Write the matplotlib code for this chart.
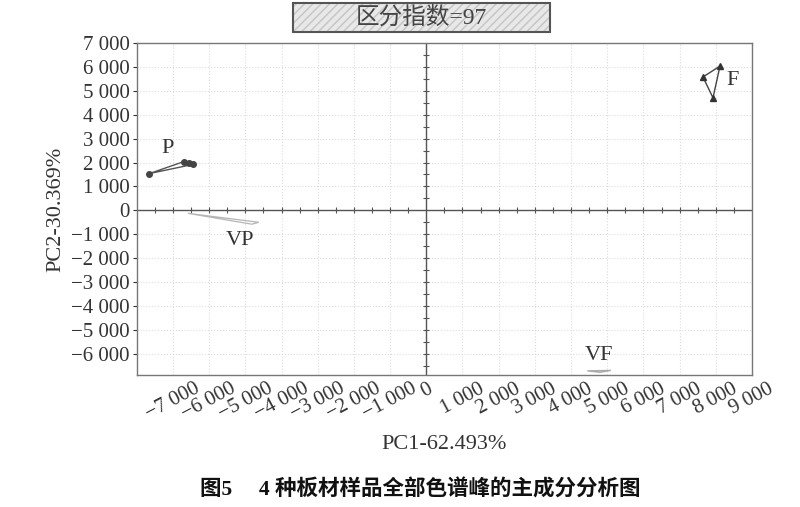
import numpy as np
import matplotlib
matplotlib.use('Agg')
import matplotlib.pyplot as plt
from matplotlib.patches import Rectangle
from matplotlib.ticker import FuncFormatter

plt.rcParams['font.family'] = ['Liberation Serif', 'Noto Sans CJK SC', 'DejaVu Sans']

# PCA scores
p_x = [-7650, -6700, -6550, -6450]
p_y = [1540, 2040, 2000, 1920]
vp_x = [-6590, -4820, -4630]
vp_y = [-125, -580, -500]
f_x = [8116, 7645, 7922]
f_y = [6040, 5580, 4710]
vf_x = [4450, 4800, 5100]
vf_y = [-6720, -6780, -6700]

group_labels = ['P', 'VP', 'F', 'VF']
label_x = [-7150, -5150, 8450, 4760]
label_y = [2580, -1250, 5420, -6080]

x_ticks = list(range(-7000, 10000, 1000))
y_ticks = list(range(-6000, 8000, 1000))

fig = plt.figure(figsize=(8.0, 5.07), dpi=100)
ax = fig.add_axes([0.171, 0.26, 0.769, 0.655])

ax.set_xlim(-8000, 9000)
ax.set_ylim(-6900, 7000)

# faint dotted grid
ax.set_xticks(x_ticks)
ax.set_yticks(y_ticks)
ax.grid(True, color='#dcdcdc', linestyle=':', linewidth=0.8)

# zero axes with small cross ticks
ax.axhline(0, color='#555555', lw=1.0, zorder=2)
ax.axvline(0, color='#555555', lw=1.0, zorder=2)
tx = np.arange(-7500, 9000, 500)
tx = tx[tx != 0]
ax.plot(tx, np.zeros_like(tx), '|', color='#555555', ms=4, mew=0.8, zorder=3)
ty = np.arange(-6500, 7000, 500)
ty = ty[ty != 0]
ax.plot(np.zeros_like(ty), ty, '_', color='#555555', ms=4, mew=0.8, zorder=3)

# groups
ax.fill(p_x, p_y, facecolor='none', edgecolor='#555555', lw=1.0, zorder=4)
ax.plot(p_x, p_y, 'o', color='#444444', ms=4, zorder=5)
ax.fill(vp_x, vp_y, facecolor='none', edgecolor='#b5b5b5', lw=0.9, zorder=4)
ax.fill(f_x, f_y, facecolor='none', edgecolor='#444444', lw=1.0, zorder=4)
ax.plot(f_x, f_y, '^', color='#333333', ms=4, zorder=5)
ax.fill(vf_x, vf_y, facecolor='none', edgecolor='#aaaaaa', lw=1.0, zorder=4)

for lab, lx, ly in zip(group_labels, label_x, label_y):
    ax.text(lx, ly, lab, fontsize=16, color='#333333', ha='center', va='center', zorder=6)

fmt = FuncFormatter(lambda v, pos: ('\u2212' if v < 0 else '') + format(int(abs(v)), ',').replace(',', ' '))
ax.xaxis.set_major_formatter(fmt)
ax.yaxis.set_major_formatter(fmt)
ax.tick_params(axis='both', labelsize=15, colors='#333333', length=3, width=0.8)
ax.tick_params(axis='y', pad=2)
ax.tick_params(axis='x', length=0, pad=3)
for t in ax.get_xticklabels():
    t.set_rotation(28)
    t.set_ha('center')

for s in ax.spines.values():
    s.set_color('#777777')
    s.set_linewidth(1.0)

ax.set_xlabel('PC1-62.493%', fontsize=16, color='#333333', labelpad=8)
ax.set_ylabel('PC2-30.369%', fontsize=16, color='#333333', labelpad=4)

# title box
fig.patches.append(Rectangle((0.366, 0.937), 0.322, 0.058, transform=fig.transFigure,
                             facecolor='#e8e8e8', edgecolor='#c4c4c4', hatch='////', lw=0))
fig.patches.append(Rectangle((0.366, 0.937), 0.322, 0.058, transform=fig.transFigure,
                             facecolor='none', edgecolor='#555555', lw=1.5))
fig.text(0.527, 0.966, '区分指数=97', fontsize=17, color='#444444', ha='center', va='center',
         family=['Liberation Serif', 'Noto Sans CJK SC', 'DejaVu Sans'])
# caption
fig.text(0.525, 0.034, '图5\u3000 4 种板材样品全部色谱峰的主成分分析图', fontsize=15.5,
         fontweight='bold', color='#111111', ha='center', va='center',
         family=['Liberation Serif', 'Noto Sans CJK SC', 'DejaVu Sans'])

fig.savefig('out.png', dpi=100, facecolor='white')
